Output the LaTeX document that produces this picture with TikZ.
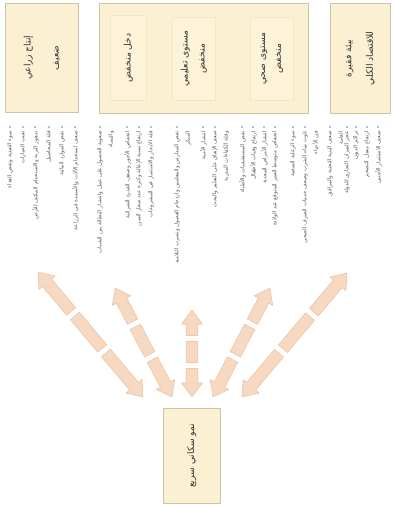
\documentclass[tikz,border=0pt]{standalone}
\usepackage{fontspec}
\usepackage{tikz}
\usetikzlibrary{calc}
\newfontfamily\arabicfont[Script=Arabic]{DejaVu Sans}
\TeXXeTstate=1
\definecolor{boxfill}{HTML}{FBF1D2}
\definecolor{boxline}{HTML}{CEC4AA}
\definecolor{subline}{HTML}{F1E7CB}
\definecolor{arrowfill}{HTML}{F7D9C1}
\definecolor{arrowline}{HTML}{E6BEA0}
\definecolor{dotblue}{HTML}{AFC0D3}
\definecolor{itemtext}{HTML}{5A5A5A}

\begin{document}
\begin{tikzpicture}[x=0.03cm, y=-0.03cm,
    bigbox/.style={draw=boxline, fill=boxfill, line width=0.6pt, inner sep=0pt, anchor=north west},
    subbox/.style={draw=subline, fill=boxfill!85!white, line width=0.5pt, inner sep=0pt, anchor=north west},
    title/.style={rotate=90, font=\arabicfont\fontsize{7.8}{9.5}\selectfont, align=center, inner sep=0pt, text=black!80},
    item/.style={rotate=90, anchor=north east, font=\arabicfont\fontsize{4.7}{9.5}\selectfont, align=right, inner sep=0pt, text=itemtext},
    dot/.style={fill=dotblue, inner sep=0pt, minimum size=2.2pt},
    arrowpart/.style={draw=arrowline, fill=arrowfill, line width=0.4pt, line join=round}]
    \useasboundingbox (0,0) rectangle (393,506);

    % boxes
    \node[bigbox, minimum width=62.3pt, minimum height=93pt] (agri) at (5,3) {};
    \node[bigbox, minimum width=178.4pt, minimum height=93.9pt] (social) at (99,3) {};
    \node[bigbox, minimum width=51.2pt, minimum height=93.9pt] (econ) at (330,3) {};
    \node[subbox, minimum width=30.7pt, minimum height=72.6pt] (income) at (110,15) {};
    \node[subbox, minimum width=36.7pt, minimum height=70.8pt] (educ) at (172,17) {};
    \node[subbox, minimum width=36.7pt, minimum height=70.8pt] (health) at (250,17) {};
    \node[bigbox, minimum width=48.7pt, minimum height=81.1pt] (growth) at (163,408) {};

    \node[title] (agritext) at (agri.center) {\beginR إنتاج زراعي\endR\\[14.5pt]\beginR ضعيف\endR};
    \node[title] (incometext) at (income.center) {\beginR دخل منخفض\endR};
    \node[title] (eductext) at (educ.center) {\beginR مستوى تعليمي\endR\\[5pt]\beginR منخفض\endR};
    \node[title] (healthtext) at (health.center) {\beginR مستوى صحي\endR\\[4pt]\beginR منخفض\endR};
    \node[title] (econtext) at (econ.center) {\beginR بيئة فقيرة\endR\\[9pt]\beginR للاقتصاد الكلي\endR};
    \node[title] (growthtext) at (growth.center) {\beginR نمو سكاني سريع\endR};

    % lists
    \foreach \nm/\cx/\txt in {
        a1/10/{سوء التغذية ونقص الغذاء},
        a2/23/{تفتت الحيازات},
        a3/35/{تدهور التربة والاستخدام المكثف للأرض},
        a4/49/{قلة المحاصيل},
        a5/62/{نقص الموارد المائية},
        a6/75/{ضعف استخدام الآلات والأسمدة في الزراعة},
        b1/100/{صعوبة الحصول على عمل وانتشار البطالة بين الشباب\endR\\\beginR والنساء},
        b2/127/{انخفاض الأجور وضعف القدرة الشرائية},
        b3/139/{ارتفاع نسبة الإعالة وكثرة عدد صغار السن},
        b4/151/{قلة الادخار والاستثمار في المشروعات},
        c1/177/{نقص المدارس والمعلمين وازدحام الفصول وتسرب التلاميذ\endR\\\beginR المبكر},
        c2/203/{انتشار الأمية},
        c3/215/{ضعف الإنفاق على التعليم والبحث\endR\\\beginR وقلة الكفاءات المدربة},
        d1/242/{نقص المستشفيات والأطباء},
        d2/253/{ارتفاع وفيات الأطفال},
        d3/264/{انتشار الأمراض المعدية},
        d4/275/{انخفاض متوسط العمر المتوقع عند الولادة},
        d5/293/{سوء الرعاية الصحية},
        d6/305/{تلوث مياه الشرب وضعف خدمات الصرف الصحي\endR\\\beginR في الأحياء},
        e1/330/{ضعف البنية التحتية والمرافق\endR\\\beginR العامة},
        e2/347/{عجز الميزان التجاري للدولة},
        e3/356/{تراكم الديون},
        e4/367/{ارتفاع معدل التضخم},
        e5/378/{ضعف الاستثمار الأجنبي}}
    {
        \node[dot] (dot\nm) at (\cx,127) {};
        \node[item] (\nm) at (\cx-3,131) {\beginR\txt\endR};
    }

    % arrows
    \coordinate (f1) at (143,397); \coordinate (t1) at (38,272);
    \coordinate (f2) at (172,397); \coordinate (t2) at (115,288);
    \coordinate (f3) at (192,397); \coordinate (t3) at (192,310);
    \coordinate (f4) at (213,397); \coordinate (t4) at (270,288);
    \coordinate (f5) at (242,397); \coordinate (t5) at (347,273);
    \foreach \a/\b in {f1/t1,f2/t2,f3/t3,f4/t4,f5/t5}
        \path[arrowpart] let \p1=($(\b)-(\a)$), \n1={atan2(\y1,\x1)}, \n2={veclen(\x1,\y1)},
            \n3={0.38*(\n2-10pt)}, \n4={\n3+5pt}, \n5={\n4+0.28*(\n2-10pt)}, \n6={\n5+5pt}, \n7={\n2-12pt} in
            {[shift={(\a)}, rotate=\n1]
            (0pt,0pt) -- (12pt,9pt) -- (12pt,5pt) -- (\n3,5pt) -- (\n3,-5pt) -- (12pt,-5pt) -- (12pt,-9pt) -- cycle
            (\n4,5pt) -- (\n5,5pt) -- (\n5,-5pt) -- (\n4,-5pt) -- cycle
            (\n6,5pt) -- (\n7,5pt) -- (\n7,9pt) -- (\n2,0pt) -- (\n7,-9pt) -- (\n7,-5pt) -- (\n6,-5pt) -- cycle};

    % \draw[help lines] (0,0) grid[step=10] (393,506);
\end{tikzpicture}
\end{document}
